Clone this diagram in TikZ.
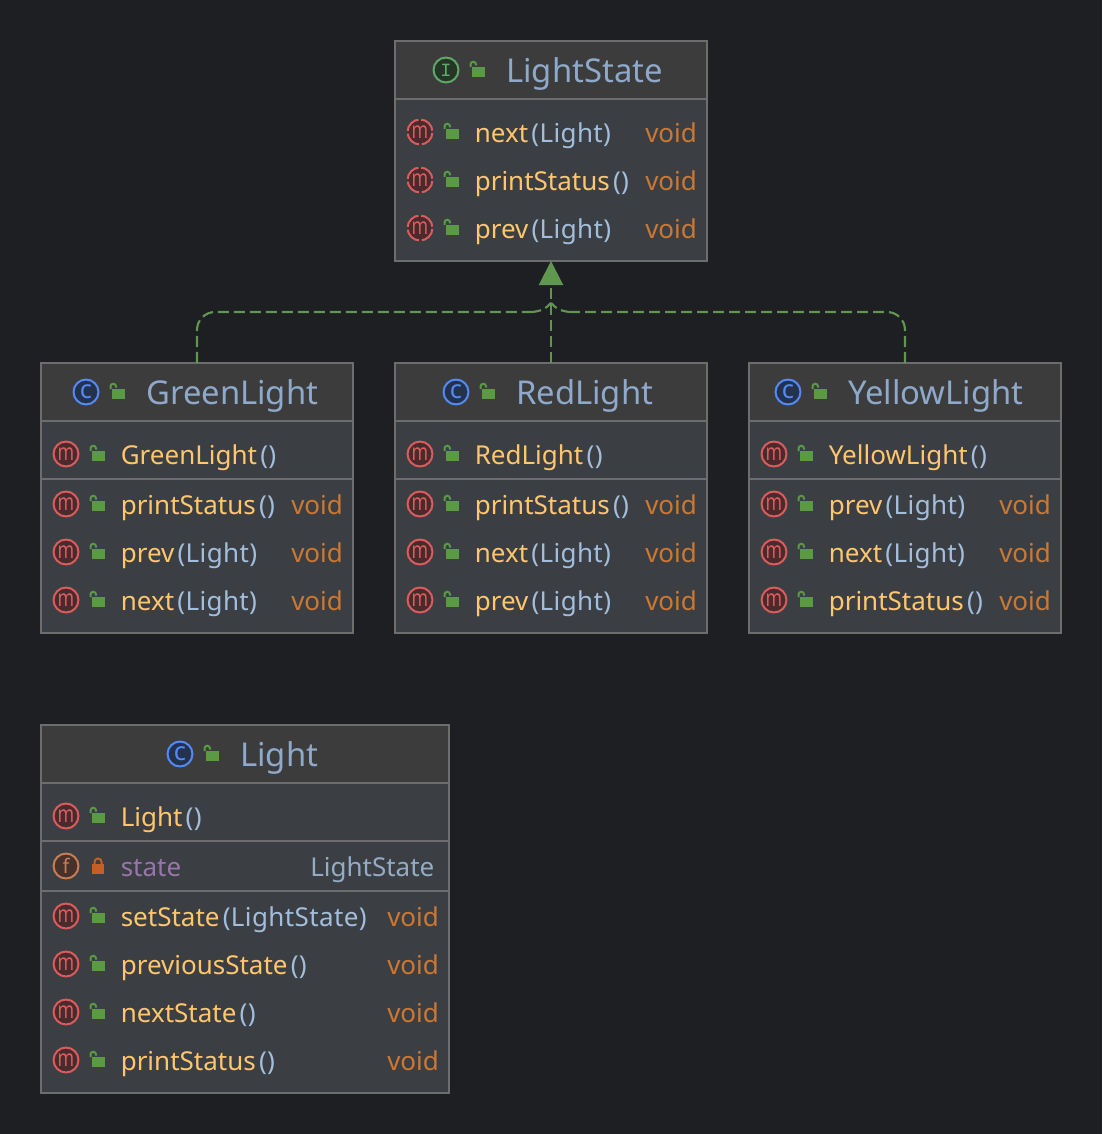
\documentclass[tikz,border=0pt]{standalone}
\usepackage{fontspec}
\setmainfont{Noto Sans}
\newfontfamily\iconfont{Liberation Mono}
\usetikzlibrary{arrows.meta}

\definecolor{canvasbg}{HTML}{1E1F22}
\definecolor{bodybg}{HTML}{3B3F43}
\definecolor{headbg}{HTML}{3C3C3C}
\definecolor{edgegray}{HTML}{6D6D6D}
\definecolor{titleblue}{HTML}{8FA9CB}
\definecolor{methodyellow}{HTML}{FFC66D}
\definecolor{paramblue}{HTML}{A3BEDC}
\definecolor{typeorange}{HTML}{CC7832}
\definecolor{fieldpurple}{HTML}{9876AA}
\definecolor{lockgreen}{HTML}{5A9A45}
\definecolor{lockred}{HTML}{C75F24}
\definecolor{depgreen}{HTML}{5F9650}
\definecolor{iconred}{HTML}{DB5C5C}
\definecolor{iconredbg}{HTML}{4A2A2D}
\definecolor{iconblue}{HTML}{548AF7}
\definecolor{iconbluebg}{HTML}{25324D}
\definecolor{icongreen}{HTML}{5FA868}
\definecolor{icongreenbg}{HTML}{253627}
\definecolor{iconbrown}{HTML}{C77D55}
\definecolor{iconbrownbg}{HTML}{45322A}

\tikzset{
	pics/lockopen/.style={code={
		\fill [lockgreen] (-5,-3) rectangle (7.5,7);
		\draw [lockgreen,line width=1.5pt] (-6.5,-3) -- (-6.5,-5.5) arc (180:360:2.75) -- (-1,-4.5);
	}},
	pics/lockshut/.style={code={
		\fill [lockred] (-6,-3) rectangle (6,7);
		\draw [lockred,line width=1.5pt] (-3.5,-3) -- (-3.5,-5) arc (180:360:3.5) -- (3.5,-3);
	}},
}

% one class: name, left, top, width, height, header height
\newcommand{\classbox}[6]{
	\node [classbox,minimum width=#4*0.75pt,minimum height=#5*0.75pt] (#1) at ({#2},{#3}) {};
	\fill [headbg] ({#2+1},{#3+1}) rectangle ({#2+#4-1},{#3+#6});
	\draw [rowrule] ({#2+1},{#3+#6}) -- ({#2+#4-1},{#3+#6});
}
% header row: box, icon x, y, icon style, letter, title
\newcommand{\classhead}[6]{
	\node [#4] (#1icon) at ({#2},{#3}) {#5};
	\pic at ({#2+31},{#3}) {lockopen};
	\node [titletext] (#1title) at ({#2+60},{#3+12.5}) {#6};
}
\newcommand{\mglyph}{\scalebox{.76}[1]{m}}
% method row: box, left, y, icon style, name, parameters
\newcommand{\methodrow}[6]{
	\node [#4] (#1icon#3) at ({#2+25},{#3}) {\mglyph};
	\pic at ({#2+56},{#3}) {lockopen};
	\node [methodtext] (#1name#3) at ({#2+79.5},{#3+10.3}) {#5};
	\node [paramtext] (#1param#3) at (#1name#3.base east) {#6};
}

\begin{document}
\begin{tikzpicture}[
	x=0.75pt,
	y=-0.75pt,
	classbox/.style={
		rectangle,
		draw=edgegray,
		fill=bodybg,
		line width=1.5pt,
		anchor=north west,
		inner sep=0pt,
		outer sep=0pt,
	},
	rowrule/.style={
		draw=edgegray,
		line width=1.5pt,
	},
	iconbase/.style={
		circle,
		line width=1.5pt,
		minimum size=18.7pt,
		inner sep=0pt,
	},
	iconm/.style={iconbase,draw=iconred,fill=iconredbg,text=iconred,font=\fontsize{17.5}{17}\selectfont},
	iconabs/.style={iconm,dash pattern=on 12.6pt off 2.1pt,dash phase=13.65pt},
	iconc/.style={iconbase,draw=iconblue,fill=iconbluebg,text=iconblue,font=\fontsize{19}{19}\selectfont},
	iconi/.style={iconbase,draw=icongreen,fill=icongreenbg,text=icongreen,font=\iconfont\fontsize{14}{14}\selectfont},
	iconf/.style={iconbase,draw=iconbrown,fill=iconbrownbg,text=iconbrown,font=\fontsize{15}{15}\selectfont},
	titletext/.style={anchor=base west,inner sep=0pt,text=titleblue,font=\fontsize{24.6}{28}\selectfont},
	methodtext/.style={anchor=base west,inner sep=0pt,text=methodyellow,font=\fontsize{19.5}{24}\selectfont},
	paramtext/.style={anchor=base west,inner sep=0pt,xshift=2pt,text=paramblue,font=\addfontfeatures{LetterSpace=1.5}\fontsize{19.5}{24}\selectfont},
	typetext/.style={anchor=base west,inner sep=0pt,text=typeorange,font=\fontsize{19.5}{24}\selectfont},
	ArrowDep/.style={
		draw=depgreen,
		line width=1.6pt,
		dash pattern=on 8.4pt off 3.6pt,
	},
]
	\useasboundingbox [fill=canvasbg] (0,0) rectangle (1102,1134);

	\classbox{LightState}{395}{41}{312}{220}{58}
	\classhead{LightState}{446}{70}{iconi}{I}{LightState}
	\foreach \yy/\nm/\pr/\ic in {132/next/(Light)/iconabs,180/printStatus/()/iconabs,228/prev/(Light)/iconabs}{
		\methodrow{LightState}{395}{\yy}{\ic}{\nm}{\pr}
		\node [typetext] (LightStatetype\yy) at (645,\yy+10.3) {void};
	}

	\classbox{GreenLight}{41}{363}{312}{270}{58}
	\classhead{GreenLight}{86}{392}{iconc}{c}{GreenLight}
	\methodrow{GreenLight}{41}{454}{iconm}{GreenLight}{()}
	\draw [rowrule] (42,479) -- (352,479);
	\foreach \yy/\nm/\pr in {504/printStatus/(),552/prev/(Light),600/next/(Light)}{
		\methodrow{GreenLight}{41}{\yy}{iconm}{\nm}{\pr}
		\node [typetext] (GreenLighttype\yy) at (291,\yy+10.3) {void};
	}

	\classbox{RedLight}{395}{363}{312}{270}{58}
	\classhead{RedLight}{456}{392}{iconc}{c}{RedLight}
	\methodrow{RedLight}{395}{454}{iconm}{RedLight}{()}
	\draw [rowrule] (396,479) -- (706,479);
	\foreach \yy/\nm/\pr in {504/printStatus/(),552/next/(Light),600/prev/(Light)}{
		\methodrow{RedLight}{395}{\yy}{iconm}{\nm}{\pr}
		\node [typetext] (RedLighttype\yy) at (645,\yy+10.3) {void};
	}

	\classbox{YellowLight}{749}{363}{312}{270}{58}
	\classhead{YellowLight}{788}{392}{iconc}{c}{YellowLight}
	\methodrow{YellowLight}{749}{454}{iconm}{YellowLight}{()}
	\draw [rowrule] (750,479) -- (1060,479);
	\foreach \yy/\nm/\pr in {504/prev/(Light),552/next/(Light),600/printStatus/()}{
		\methodrow{YellowLight}{749}{\yy}{iconm}{\nm}{\pr}
		\node [typetext] (YellowLighttype\yy) at (999,\yy+10.3) {void};
	}

	\classbox{Light}{41}{725}{408}{368}{58}
	\classhead{Light}{180}{754}{iconc}{c}{Light}
	\methodrow{Light}{41}{816}{iconm}{Light}{()}
	\draw [rowrule] (42,841) -- (448,841);
	\node [iconf] (Lighticon866) at (66,866) {f};
	\pic at (98,867) {lockshut};
	\node [methodtext,text=fieldpurple] (Lightname866) at (120.5,876.3) {state};
	\node [typetext,text=paramblue!90!black] (Lighttype866) at (310,876.3) {LightState};
	\draw [rowrule] (42,891) -- (448,891);
	\foreach \yy/\nm/\pr in {916/setState/(LightState),964/previousState/(),1012/nextState/(),1060/printStatus/()}{
		\methodrow{Light}{41}{\yy}{iconm}{\nm}{\pr}
		\node [typetext] (Lighttype\yy) at (387,\yy+10.3) {void};
	}

	\coordinate (merge) at (551,303);
	\draw [ArrowDep,rounded corners=13.5pt] (GreenLight.north) -- (197,312) -- (530,312);
	\draw [ArrowDep] (530,312) .. controls (540,312) and (547,308) .. (merge);
	\draw [ArrowDep,rounded corners=13.5pt] (YellowLight.north) -- (905,312) -- (572,312);
	\draw [ArrowDep] (572,312) .. controls (562,312) and (555,308) .. (merge);
	\draw [ArrowDep,-{Triangle[length=18pt,width=18pt]}] (RedLight.north) -- (LightState.south);
\end{tikzpicture}
\end{document}
